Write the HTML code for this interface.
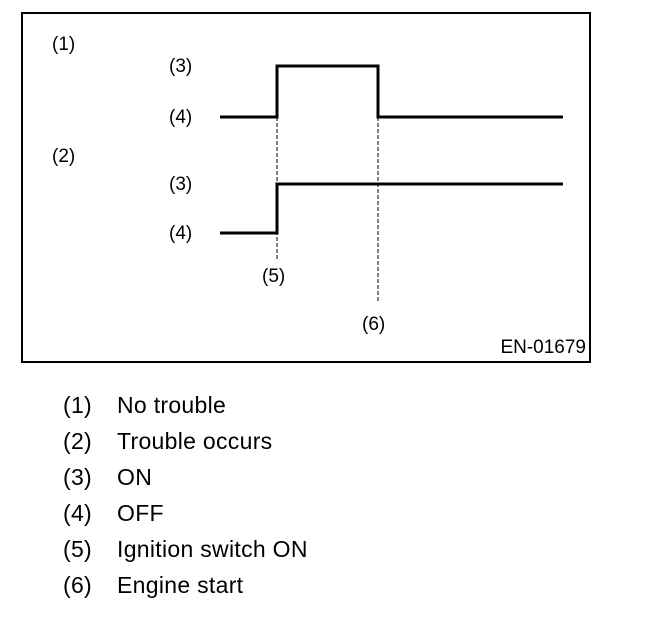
<!DOCTYPE html>
<html><head><style>
body{margin:0;background:#fff;}
svg{display:block;}
text{font-family:"Liberation Sans",Arial,sans-serif;fill:#000;}
</style></head><body>
<svg width="672" height="628" viewBox="0 0 672 628">
<rect x="22" y="13" width="568" height="349" fill="none" stroke="#000" stroke-width="2"/>
<g font-size="19" dominant-baseline="middle">
<text x="52" y="45">(1)</text>
<text x="52" y="157">(2)</text>
<text x="169" y="67">(3)</text>
<text x="169" y="118">(4)</text>
<text x="169" y="185">(3)</text>
<text x="169" y="234">(4)</text>
<text x="262" y="277">(5)</text>
<text x="362" y="325">(6)</text>
<text x="586" y="348" text-anchor="end" font-size="19">EN-01679</text>
</g>
<g fill="none" stroke="#000" stroke-width="3">
<polyline points="220,117 277,117 277,66 378,66 378,117 563,117"/>
<polyline points="220,233 277,233 277,184 563,184"/>
</g>
<g stroke="#000" stroke-width="1" stroke-dasharray="4,2">
<line x1="277" y1="117" x2="277" y2="260"/>
<line x1="378" y1="117" x2="378" y2="302"/>
</g>
<g font-size="23" dominant-baseline="middle" letter-spacing="0.3">
<text x="63" y="407">(1)</text><text x="117" y="407">No trouble</text>
<text x="63" y="443">(2)</text><text x="117" y="443">Trouble occurs</text>
<text x="63" y="479">(3)</text><text x="117" y="479">ON</text>
<text x="63" y="515">(4)</text><text x="117" y="515">OFF</text>
<text x="63" y="551">(5)</text><text x="117" y="551">Ignition switch ON</text>
<text x="63" y="587">(6)</text><text x="117" y="587">Engine start</text>
</g>
</svg>
</body></html>
